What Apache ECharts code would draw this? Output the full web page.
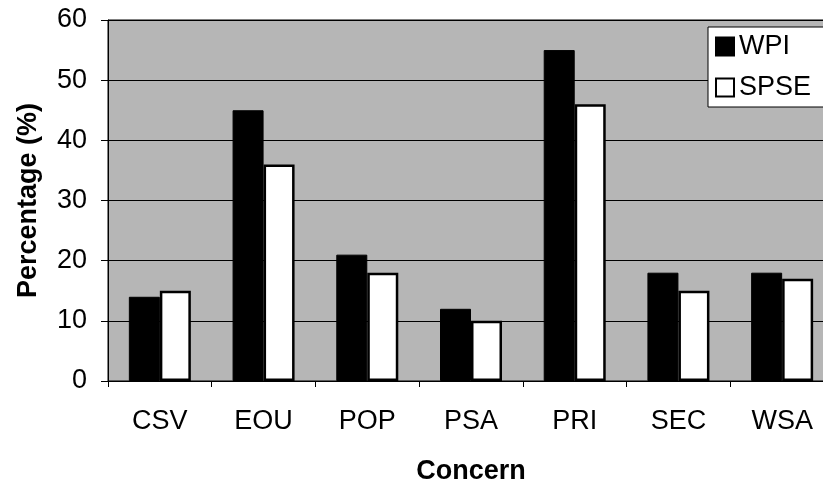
<!DOCTYPE html>
<html>
<head>
<meta charset="utf-8">
<script src="https://cdn.jsdelivr.net/npm/echarts@6/dist/echarts.min.js"></script>
<style>
  html, body { margin: 0; padding: 0; background: #fff; }
  #chart { width: 823px; height: 483px; }
</style>
</head>
<body>
<div id="chart"></div>
<script>
const categories = ['CSV', 'EOU', 'POP', 'PSA', 'PRI', 'SEC', 'WSA'];
const wpi = [14, 45, 21, 12, 55, 18, 18];
const spse = [15, 36, 18, 10, 46, 15, 17];

const chart = echarts.init(document.getElementById('chart'));
const font = 'Liberation Sans, Arial, sans-serif';

chart.setOption({
  animation: false,
  textStyle: { fontFamily: font },
  grid: {
    left: 108, right: -11, top: 20, bottom: 102,
    outerBoundsMode: 'none', containLabel: false,
    show: true, backgroundColor: '#b6b6b6', borderColor: '#000', borderWidth: 1
  },
  legend: {
    left: 708, top: 27,
    orient: 'vertical',
    backgroundColor: '#fff', borderColor: '#000', borderWidth: 1,
    padding: [6, 60, 6, 7],
    itemGap: 14, itemWidth: 18, itemHeight: 18,
    textStyle: { fontSize: 27, color: '#000', fontFamily: font },
    data: [
      { name: 'WPI', icon: 'rect' },
      { name: 'SPSE', icon: 'rect' }
    ]
  },
  xAxis: {
    type: 'category',
    data: categories,
    name: 'Concern',
    nameLocation: 'middle',
    nameGap: 77,
    nameTextStyle: { fontSize: 27, fontWeight: 'bold', color: '#000' },
    axisLine: { lineStyle: { color: '#000' } },
    axisTick: { show: true, length: 6, lineStyle: { color: '#000' } },
    axisLabel: { fontSize: 27, color: '#000', margin: 27 }
  },
  yAxis: {
    type: 'value',
    min: 0, max: 60, interval: 10,
    name: 'Percentage (%)',
    nameLocation: 'middle',
    nameGap: 66,
    nameTextStyle: { fontSize: 27, fontWeight: 'bold', color: '#000' },
    axisLine: { show: true, lineStyle: { color: '#000' } },
    axisTick: { show: true, length: 7, lineStyle: { color: '#000' } },
    axisLabel: { fontSize: 27, color: '#000', margin: 21 },
    splitLine: { lineStyle: { color: '#000', width: 1 } }
  },
  series: [
    {
      name: 'WPI', type: 'bar', data: wpi,
      barWidth: 31, barGap: '0%',
      itemStyle: { color: '#000', borderColor: '#000', borderWidth: 1 }
    },
    {
      name: 'SPSE', type: 'bar', data: spse,
      barWidth: 31, barGap: '0%',
      itemStyle: { color: '#fff', borderColor: '#000', borderWidth: 2.5 }
    }
  ]
});
</script>
</body>
</html>
